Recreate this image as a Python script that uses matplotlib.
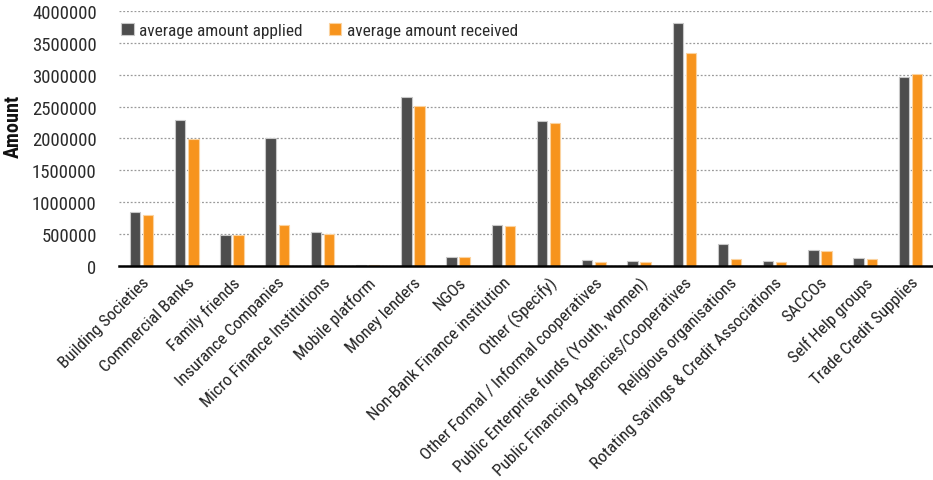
import matplotlib
matplotlib.use("Agg")
import matplotlib.pyplot as plt
from matplotlib import font_manager as fm
import numpy as np

categories = [
    "Building Societies", "Commercial Banks", "Family friends", "Insurance Companies",
    "Micro Finance Institutions", "Mobile platform", "Money lenders", "NGOs",
    "Non-Bank Finance institution", "Other (Specify)", "Other Formal / Informal cooperatives",
    "Public Enterprise funds (Youth, women)", "Public Financing Agencies/Cooperatives",
    "Religious organisations", "Rotating Savings & Credit Associations", "SACCOs",
    "Self Help groups", "Trade Credit Supplies",
]
applied = [840000, 2290000, 490000, 2005000, 533000, 20000, 2650000, 141000,
           643000, 2280000, 94000, 78000, 3805000, 340000, 78000, 246000, 130000, 2960000]
received = [795000, 1985000, 490000, 643000, 497000, 15000, 2505000, 141000,
            627000, 2238000, 63000, 58000, 3340000, 105000, 63000, 230000, 115000, 3005000]
series_names = ["average amount applied", "average amount received"]
yticks = [0, 500000, 1000000, 1500000, 2000000, 2500000, 3000000, 3500000, 4000000]

# pick a condensed font if one is installed
all_files = fm.findSystemFonts() + fm.findSystemFonts(fontpaths=[matplotlib.get_data_path() + "/fonts/ttf"])
fam = None
for key in ["robotocondensed", "opensanscondensed", "opensans_condensed", "liberationsansnarrow", "dejavusanscondensed"]:
    hits = [f for f in all_files if key in f.lower().replace(" ", "").replace("-", "").split("/")[-1]]
    if hits:
        for f in hits:
            try:
                fm.fontManager.addfont(f)
            except Exception:
                pass
        reg = [f for f in hits if "regular" in f.lower()] or hits
        fam = fm.FontProperties(fname=reg[0]).get_name()
        break

if fam:
    plt.rcParams['font.family'] = [fam, 'DejaVu Sans']
    xs, ys, ls = 12.3, 13.5, 12.4
else:
    plt.rcParams['font.family'] = ['DejaVu Sans']
    xs, ys, ls = 9.5, 10.5, 10

fig = plt.figure(figsize=(9.33, 4.81), dpi=100)
ax = fig.add_axes([0.1275, 0.445, 0.8725, 0.53])

x = np.arange(len(categories))
w = 0.23
off = 0.145
ax.bar(x - off, applied, width=w, color="#4d4d4d", edgecolor="#c8c8c8", linewidth=0.8,
       label=series_names[0], zorder=3)
ax.bar(x + off, received, width=w, color="#f7941d", edgecolor="#fbd3a0", linewidth=0.8,
       label=series_names[1], zorder=3)

ax.set_xlim(-0.5, len(categories) - 0.5)
ax.set_ylim(0, 4000000)
ax.set_yticks(yticks)
ax.set_yticklabels([str(v) for v in yticks], fontsize=ys, color="#2b2b2b")
ax.yaxis.grid(True, linestyle=(0, (1.5, 1.5)), color="#9a9a9a", linewidth=0.9, zorder=0)
ax.set_axisbelow(True)
ax.tick_params(axis='y', length=0, pad=16)
ax.tick_params(axis='x', length=0, pad=6)
for s in ["left", "right", "top"]:
    ax.spines[s].set_visible(False)
ax.spines["bottom"].set_color("black")
ax.spines["bottom"].set_linewidth(1.8)
ax.spines["bottom"].set_zorder(4)

ax.set_xticks(x)
ax.set_xticklabels(categories, rotation=45, ha="right", rotation_mode="anchor",
                   fontsize=xs, color="#222222")

ax.set_ylabel("Amount", fontsize=14.5, fontweight="bold", color="#111111")
ax.yaxis.set_label_coords(-0.118, 0.55)

leg = ax.legend(loc="upper left", bbox_to_anchor=(-0.01, 0.995), ncol=2, frameon=False,
                fontsize=ls, handlelength=0.75, handleheight=0.75, handletextpad=0.3,
                columnspacing=1.5, borderaxespad=0.2)
for t in leg.get_texts():
    t.set_color("#2b2b2b")

fig.savefig("out.png", dpi=100)
